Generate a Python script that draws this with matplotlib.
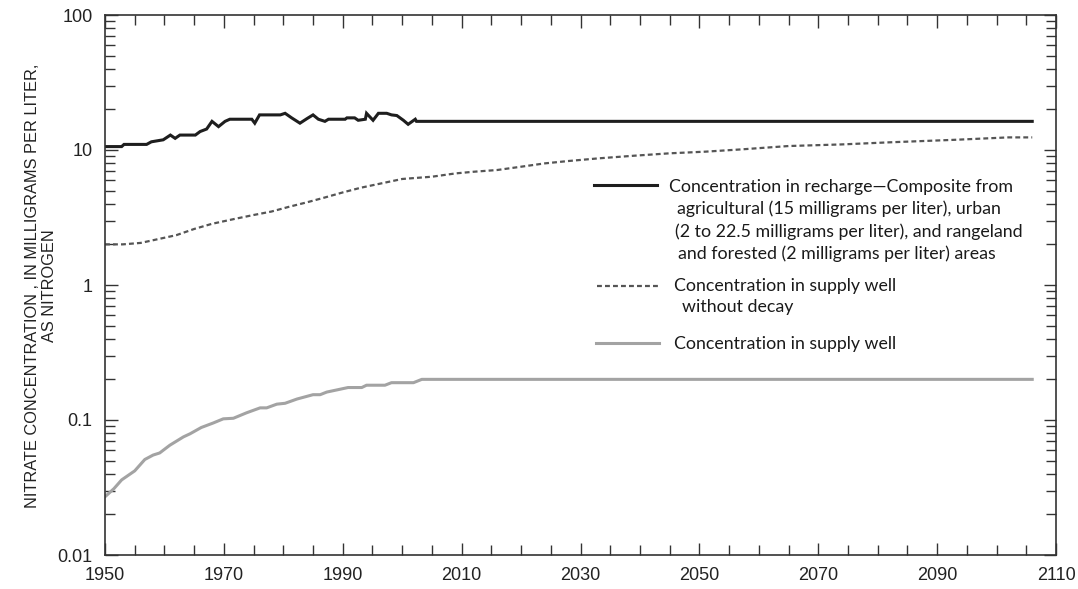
import matplotlib
matplotlib.use("Agg")
import matplotlib.pyplot as plt
from matplotlib.ticker import FixedLocator, NullFormatter, FixedFormatter

# ---------------- data ----------------
recharge_years = [1950, 1952.8, 1953.2, 1957, 1957.8, 1959.8, 1961, 1961.8, 1962.6, 1965.2,
                  1966, 1967.1, 1968, 1969.1, 1970.2, 1971, 1974.7, 1975.2, 1976, 1979.5,
                  1980.3, 1981.4, 1982.8, 1984, 1985, 1985.9, 1987, 1987.6, 1990.4, 1990.7,
                  1992, 1992.6, 1993.8, 1994, 1995.1, 1996, 1997.4, 1998.2, 1999.1, 2000.2,
                  2001, 2002.2, 2002.4, 2106]
recharge_vals = [10.6, 10.6, 11.0, 11.0, 11.5, 11.9, 12.9, 12.2, 12.9, 12.9,
                 13.7, 14.3, 16.3, 14.9, 16.3, 16.9, 16.9, 15.8, 18.2, 18.2,
                 18.7, 17.3, 15.8, 17.1, 18.2, 16.9, 16.3, 16.9, 16.9, 17.3,
                 17.3, 16.6, 16.9, 18.7, 16.6, 18.7, 18.7, 18.2, 18.0, 16.6,
                 15.5, 16.9, 16.3, 16.3]

nodecay_years = [1950, 1953, 1956, 1959, 1962, 1965, 1968, 1972, 1975, 1978, 1981, 1984,
                 1987, 1990, 1993, 1996, 2000, 2005, 2009, 2012, 2016, 2020, 2024, 2028,
                 2033, 2039, 2045, 2051, 2057, 2065, 2074, 2082, 2093, 2102, 2106]
nodecay_vals = [2.0, 2.0, 2.05, 2.19, 2.34, 2.6, 2.84, 3.1, 3.3, 3.5, 3.8, 4.1,
                4.45, 4.85, 5.25, 5.6, 6.1, 6.34, 6.71, 6.9, 7.11, 7.52, 7.96, 8.29,
                8.67, 9.07, 9.45, 9.72, 10.1, 10.7, 11.0, 11.4, 11.9, 12.4, 12.4]

well_years = [1950, 1951.5, 1952.8, 1955, 1956.7, 1958.1, 1959.2, 1960.9, 1963.2, 1964.3,
              1966.2, 1968.2, 1969.9, 1971.6, 1973.8, 1976.1, 1977.2, 1978.9, 1980.3, 1982.3,
              1985, 1986.2, 1987.3, 1989, 1990.9, 1993.2, 1994, 1997.1, 1998.2, 2001.9,
              2003.3, 2106]
well_vals = [0.027, 0.031, 0.036, 0.042, 0.051, 0.055, 0.057, 0.065, 0.075, 0.079,
             0.088, 0.095, 0.102, 0.103, 0.113, 0.123, 0.123, 0.131, 0.133, 0.143,
             0.154, 0.154, 0.161, 0.167, 0.174, 0.174, 0.181, 0.181, 0.189, 0.189,
             0.2, 0.2]

x_ticks = [1950, 1970, 1990, 2010, 2030, 2050, 2070, 2090, 2110]
y_ticks = [0.01, 0.1, 1, 10, 100]
y_ticklabels = ["0.01", "0.1", "1", "10", "100"]

legend_lines = [
    ["Concentration in recharge\u2014Composite from",
     "agricultural (15 milligrams per liter), urban",
     "(2 to 22.5 milligrams per liter), and rangeland",
     "and forested (2 milligrams per liter) areas"],
    ["Concentration in supply well",
     "without decay"],
    ["Concentration in supply well"],
]
ylabel_lines = ["NITRATE CONCENTRATION , IN MILLIGRAMS PER LITER,", "AS NITROGEN"]

# ---------------- figure ----------------
W, H = 1078, 589
fig = plt.figure(figsize=(W / 100, H / 100), dpi=100)
L, R, T, B = 105, 1056, 15, 555
ax = fig.add_axes([L / W, (H - B) / H, (R - L) / W, (B - T) / H])

c_black = "#1e1e1e"
c_dash = "#555555"
c_gray = "#a3a3a3"

ax.plot(recharge_years, recharge_vals, color=c_black, lw=2.2, solid_joinstyle="miter")
ax.plot(nodecay_years, nodecay_vals, color=c_dash, lw=1.6, dashes=(2.2, 1.4))
ax.plot(well_years, well_vals, color=c_gray, lw=2.2)

ax.set_yscale("log")
ax.set_xlim(1950, 2110)
ax.set_ylim(0.01, 100)

ax.xaxis.set_major_locator(FixedLocator(x_ticks))
ax.xaxis.set_minor_locator(FixedLocator(list(range(1950, 2111, 5))))
ax.xaxis.set_minor_formatter(NullFormatter())
ax.yaxis.set_major_locator(FixedLocator(y_ticks))
ax.yaxis.set_major_formatter(FixedFormatter(y_ticklabels))
minor_y = [m * 10.0 ** e for e in range(-2, 2) for m in range(2, 10)]
ax.yaxis.set_minor_locator(FixedLocator(minor_y))
ax.yaxis.set_minor_formatter(NullFormatter())

tick_font = dict(family=["Liberation Sans", "DejaVu Sans"], size=13)
ax.tick_params(which="both", direction="in", top=True, right=True, color="#333333", width=1.0)
ax.tick_params(which="major", length=9, pad=9)
ax.tick_params(which="minor", length=7)
for lab in ax.get_xticklabels() + ax.get_yticklabels():
    lab.set_fontfamily(tick_font["family"])
    lab.set_fontsize(tick_font["size"])
    lab.set_color("#222222")
for sp in ax.spines.values():
    sp.set_linewidth(1.2)
    sp.set_color("#333333")

# ---------------- y label (two centred lines) ----------------
yl_font = ["Liberation Sans", "DejaVu Sans"]
fig.text(33 / W, 1 - 286 / H, ylabel_lines[0], rotation=90, ha="center", va="center",
         family=yl_font, fontsize=11.8, color="#222222")
fig.text(50 / W, 1 - 286 / H, ylabel_lines[1], rotation=90, ha="center", va="center",
         family=yl_font, fontsize=11.8, color="#222222")

# ---------------- legend (manual, in axes fractions) ----------------
def ax_xy(px, py):
    return (px - L) / (R - L), (B - py) / (B - T)

leg_font = ["Lato", "DejaVu Sans"]
leg_size = 12.8
handle_specs = [
    (594, 657, 185, dict(color=c_black, lw=2.2)),
    (597, 658, 286, dict(color=c_dash, lw=1.6, dashes=(2.2, 1.4))),
    (596, 659, 343, dict(color=c_gray, lw=2.2)),
]
for x0, x1, y, kw in handle_specs:
    (ax0, ay), (ax1, _) = ax_xy(x0, y), ax_xy(x1, y)
    ax.plot([ax0, ax1], [ay, ay], transform=ax.transAxes, clip_on=False, **kw)

text_pos = [
    [(669, 187), (677, 209), (675, 232), (678, 254)],
    [(674, 286), (682, 307)],
    [(674, 344)],
]
for lines, poss in zip(legend_lines, text_pos):
    for s, (px, py) in zip(lines, poss):
        tx, ty = ax_xy(px, py + 5)
        ax.text(tx, ty, s, transform=ax.transAxes, ha="left", va="baseline",
                family=leg_font, fontsize=leg_size, color="#1a1a1a")

fig.savefig("out.png", dpi=100)
